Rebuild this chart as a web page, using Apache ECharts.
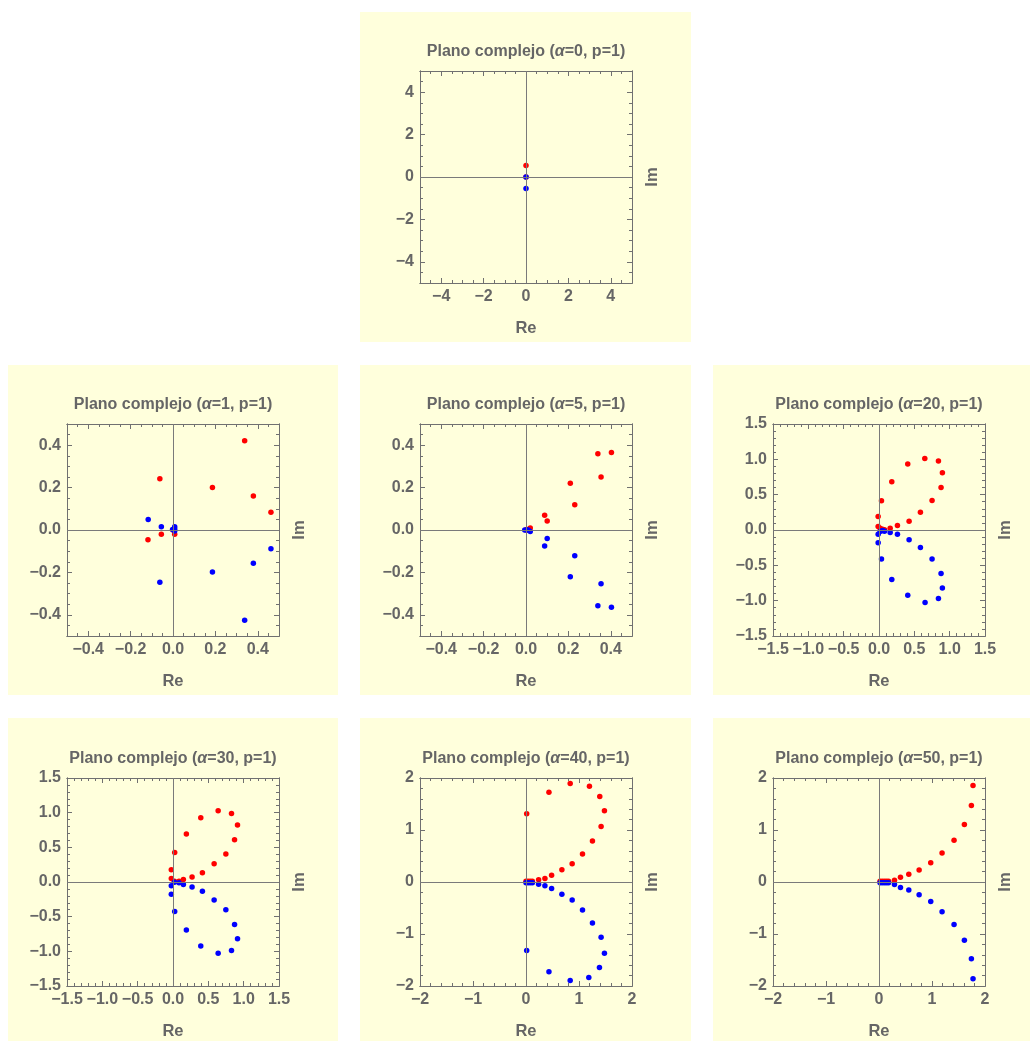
<!DOCTYPE html>
<html>
<head>
<meta charset="utf-8">
<script src="https://cdn.jsdelivr.net/npm/echarts@6/dist/echarts.min.js"></script>
<style>
html,body{margin:0;padding:0;background:#ffffff;}
#chart{width:1030px;height:1041px;}
</style>
</head>
<body>
<div id="chart"></div>
<script>
// ---------- DATA ----------
const alphas = [0, 1, 5, 20, 30, 40, 50];
const axisLimits = [5, 0.5, 0.5, 1.5, 1.5, 2, 2];
const ticksA = [-4, -2, 0, 2, 4];
const ticksB = [-0.4, -0.2, 0, 0.2, 0.4];
const ticksC = [-1.5, -1, -0.5, 0, 0.5, 1, 1.5];
const ticksD = [-2, -1, 0, 1, 2];
const minorSteps = [0.5, 0.05, 0.05, 0.1, 0.1, 0.2, 0.2];
const labelDecimals = [0, 1, 1, 1, 1, 0, 0];

const red0 = [[0, 0.54], [0, 0]];
const blue0 = [[0, 0], [0, -0.54]];

const red1 = [[0.338, 0.421], [-0.062, 0.242], [0.186, 0.201], [0.379, 0.160], [0.462, 0.084],
  [-0.118, -0.046], [-0.055, -0.020], [0.008, -0.020], [0, 0]];
const blue1 = [[-0.117, 0.050], [-0.055, 0.015], [0.008, 0.015], [0.008, 0.005], [0.008, -0.005], [-0.002, 0.002],
  [-0.062, -0.247], [0.186, -0.198], [0.379, -0.157], [0.462, -0.088], [0.338, -0.426]];

const red5 = [[0.339, 0.360], [0.403, 0.366], [0.354, 0.250], [0.209, 0.221], [0.230, 0.119],
  [0.088, 0.070], [0.100, 0.042], [0.020, 0.010], [0, 0], [0.005, 0.002]];
const blue5 = [[0.339, -0.357], [0.403, -0.364], [0.354, -0.254], [0.209, -0.220], [0.230, -0.122],
  [0.088, -0.075], [0.100, -0.040], [0.020, -0.007], [-0.006, 0], [0.005, 0], [0.010, 0]];

const red20 = [[0.648, 1.013], [0.841, 0.975], [0.897, 0.810], [0.878, 0.602], [0.751, 0.418],
  [0.586, 0.252], [0.426, 0.125], [0.261, 0.064], [0.158, 0.026], [0.407, 0.933], [0.181, 0.683],
  [0.035, 0.413], [-0.012, 0.191], [-0.012, 0.050], [0.016, 0.026], [0.050, 0.012], [0.078, 0.002]];
const blue20 = [[0.652, -1.027], [0.841, -0.971], [0.897, -0.820], [0.878, -0.617], [0.751, -0.409],
  [0.586, -0.248], [0.426, -0.139], [0.261, -0.059], [0.158, -0.035], [0.407, -0.924], [0.181, -0.701],
  [0.035, -0.409], [-0.012, -0.182], [-0.012, -0.059], [0.016, -0.021], [0.050, -0.007], [0.078, -0.016]];

const red30 = [[0.639, 1.026], [0.828, 0.988], [0.913, 0.822], [0.871, 0.609], [0.748, 0.405],
  [0.582, 0.263], [0.416, 0.135], [0.270, 0.073], [0.147, 0.036], [0.393, 0.927], [0.189, 0.694],
  [0.024, 0.424], [-0.024, 0.178], [-0.024, 0.050], [0.020, 0.012], [0.085, 0.012]];
const blue30 = [[0.639, -1.026], [0.828, -0.988], [0.913, -0.818], [0.871, -0.614], [0.748, -0.400],
  [0.582, -0.258], [0.416, -0.135], [0.270, -0.073], [0.147, -0.036], [0.393, -0.922], [0.189, -0.694],
  [0.024, -0.424], [-0.024, -0.178], [-0.024, -0.054], [0.020, -0.002], [0.085, -0.012]];

const red40 = [[0.013, 1.311], [0.433, 1.728], [0.834, 1.893], [1.197, 1.842], [1.392, 1.646],
  [1.480, 1.368], [1.417, 1.065], [1.254, 0.787], [1.066, 0.540], [0.871, 0.351], [0.677, 0.237],
  [0.483, 0.130], [0.357, 0.066], [0.238, 0.041], [0.0, 0.015], [0.04, 0.015], [0.08, 0.015], [0.12, 0.015]];
const blue40 = [[0.013, -1.318], [0.433, -1.728], [0.834, -1.893], [1.185, -1.836], [1.386, -1.646],
  [1.480, -1.368], [1.417, -1.061], [1.254, -0.790], [1.066, -0.540], [0.871, -0.344], [0.677, -0.237],
  [0.483, -0.123], [0.357, -0.073], [0.238, -0.041], [0.0, -0.015], [0.04, -0.015], [0.08, -0.015], [0.12, -0.015]];

const red50 = [[1.774, 1.855], [1.743, 1.471], [1.611, 1.106], [1.416, 0.803], [1.190, 0.557],
  [0.976, 0.369], [0.757, 0.230], [0.562, 0.148], [0.405, 0.091], [0.292, 0.035],
  [0.02, 0.015], [0.06, 0.015], [0.10, 0.015], [0.14, 0.015], [0.18, 0.015]];
const blue50 = [[1.774, -1.861], [1.743, -1.477], [1.611, -1.118], [1.416, -0.816], [1.190, -0.570],
  [0.976, -0.375], [0.757, -0.243], [0.562, -0.154], [0.405, -0.104], [0.292, -0.047],
  [0.02, -0.015], [0.06, -0.015], [0.10, -0.015], [0.14, -0.015], [0.18, -0.015]];

const redSets = [red0, red1, red5, red20, red30, red40, red50];
const blueSets = [blue0, blue1, blue5, blue20, blue30, blue40, blue50];
const majorTicks = [ticksA, ticksB, ticksB, ticksC, ticksC, ticksD, ticksD];

// ---------- LAYOUT ----------
const frames = [[420, 71], [67, 424], [420, 424], [773, 424], [67, 778], [420, 778], [773, 778]];
const frameW = 212, frameH = 212;
const panelBgs = [[360, 12, 331, 330], [8, 365, 330, 330], [360, 365, 331, 330], [713, 365, 317, 330],
  [8, 718, 330, 323], [360, 718, 331, 323], [713, 718, 317, 323]];

const FONT = "'Liberation Sans', Arial, Helvetica, sans-serif";
const TXT = '#666666';
const FRAME = '#707070';
const BG = '#FFFFDC';

function minorList(L, step) {
  const out = [];
  const n = Math.round(2 * L / step);
  for (let k = 0; k <= n; k++) out.push(+(-L + k * step).toFixed(4));
  return out;
}

const grids = [], xAxes = [], yAxes = [], series = [], graphics = [];

panelBgs.forEach(b => {
  graphics.push({type: 'rect', z: -10, silent: true, shape: {x: b[0], y: b[1], width: b[2], height: b[3]},
    style: {fill: BG}});
});

alphas.forEach((a, i) => {
  const L = axisLimits[i];
  const maj = majorTicks[i];
  const mnr = minorList(L, minorSteps[i]);
  const dec = labelDecimals[i];
  const fmt = v => {
    let s = Math.abs(v) < 1e-9 ? (0).toFixed(dec) : Number(v).toFixed(dec);
    return s.replace('-', '\u2212');
  };
  grids.push({left: frames[i][0], top: frames[i][1], width: frameW, height: frameH, containLabel: false});

  const lineStyle = {color: FRAME, width: 1};
  const labelStyle = {color: TXT, fontSize: 16, fontWeight: 'bold', fontFamily: FONT};
  const nameStyle = {color: TXT, fontSize: 16.5, fontWeight: 'bold', fontFamily: FONT};

  const mk = (pos, ticks, len, withLabel, name) => {
    const ax = {
      gridIndex: i, type: 'value', min: -L, max: L, position: pos,
      axisLine: {show: true, onZero: false, lineStyle},
      axisTick: {show: true, inside: true, length: len, customValues: ticks, lineStyle},
      axisLabel: withLabel ? Object.assign({show: true, customValues: ticks, formatter: fmt, margin: 6,
        showMinLabel: true, showMaxLabel: true, hideOverlap: false}, labelStyle) : {show: false},
      splitLine: {show: false}
    };
    if (name) {
      ax.name = name; ax.nameLocation = 'middle'; ax.nameTextStyle = nameStyle;
    }
    return ax;
  };

  const xb = mk('bottom', maj, 5, true, 'Re'); xb.nameGap = 37;
  const xIdx = xAxes.length;
  xAxes.push(xb, mk('bottom', mnr, 3, false), mk('top', maj, 5, false), mk('top', mnr, 3, false));
  const yl = mk('left', maj, 5, true);
  const yIdx = yAxes.length;
  const yr = mk('right', maj, 5, false, 'Im'); yr.nameGap = 12; yr.nameRotate = 90;
  yAxes.push(yl, mk('left', mnr, 3, false), yr, mk('right', mnr, 3, false));

  series.push({
    type: 'scatter', xAxisIndex: xIdx, yAxisIndex: yIdx, data: [], z: 1, silent: true,
    markLine: {silent: true, symbol: ['none', 'none'], label: {show: false}, animation: false,
      lineStyle: {color: '#7a7a7a', width: 1, type: 'solid'},
      emphasis: {disabled: true},
      data: [{yAxis: 0}, {xAxis: 0}]}
  });
  series.push({
    type: 'scatter', xAxisIndex: xIdx, yAxisIndex: yIdx, data: redSets[i], z: 3,
    symbolSize: 5.5, itemStyle: {color: '#ff0000', opacity: 1}, silent: true
  });
  series.push({
    type: 'scatter', xAxisIndex: xIdx, yAxisIndex: yIdx, data: blueSets[i], z: 4,
    symbolSize: 5.5, itemStyle: {color: '#0000ff', opacity: 1}, silent: true
  });

  graphics.push({
    type: 'text', z: 10, silent: true,
    x: frames[i][0] + frameW / 2, y: frames[i][1] - 19,
    style: {
      text: 'Plano complejo ({a|\u03b1}=' + a + ', p=1)',
      fill: TXT, font: 'bold 16px ' + FONT, align: 'center', verticalAlign: 'middle',
      rich: {a: {fill: TXT, fontStyle: 'italic', fontWeight: 'bold', fontSize: 16, fontFamily: FONT}}
    }
  });
});

const chart = echarts.init(document.getElementById('chart'), null, {renderer: 'canvas'});
chart.setOption({
  animation: false,
  backgroundColor: '#ffffff',
  grid: grids,
  xAxis: xAxes,
  yAxis: yAxes,
  series: series,
  graphic: graphics
});
</script>
</body>
</html>
